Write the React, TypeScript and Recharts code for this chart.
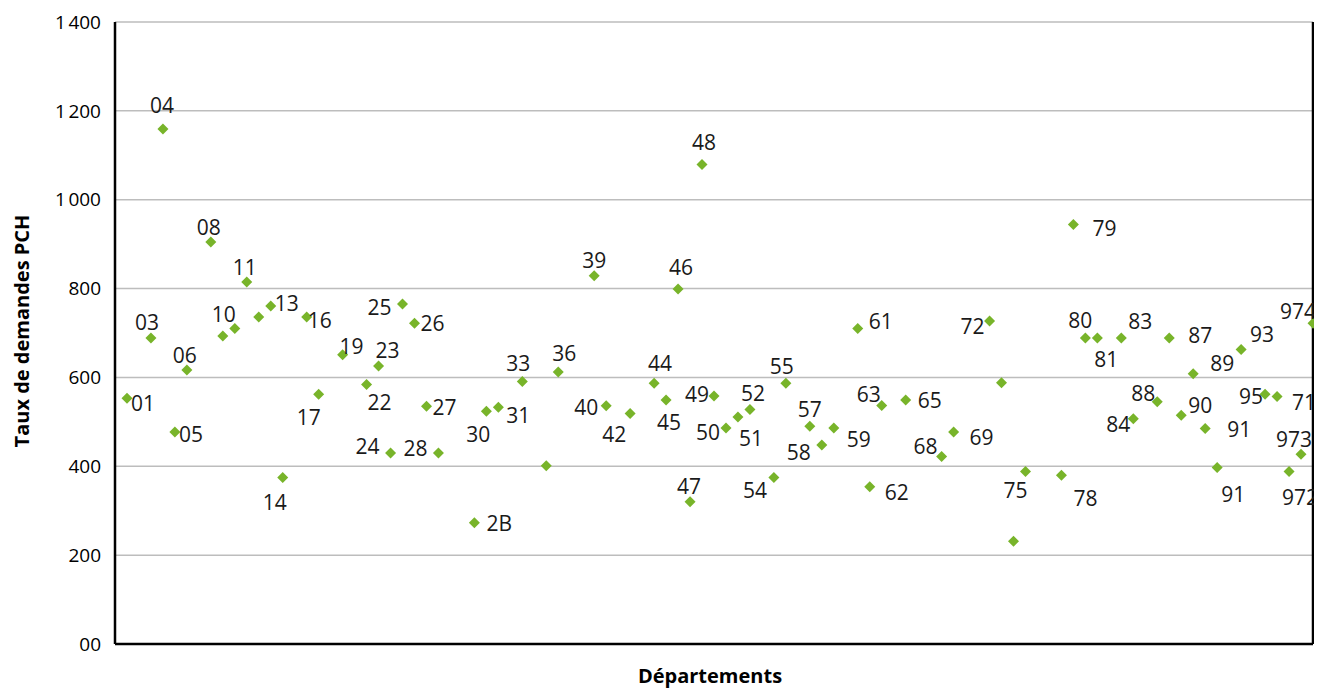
import { CartesianGrid, Label, ReferenceLine, Scatter, ScatterChart, XAxis, YAxis } from 'recharts';

// Rang du département sur l'axe horizontal (sans graduations), taux de demandes
// PCH, et étiquette affichée à côté du losange ('' = point sans étiquette).
const DEPT_RANK = [
  1, 3, 4, 5, 6, 8, 9, 10, 11, 12, 13, 14, 16, 17, 19, 21, 22, 23, 24, 25, 26, 27,
  30, 31, 32, 34, 36, 37, 40, 41, 43, 45, 46, 47, 48, 49, 50, 51, 52, 53, 55, 56,
  58, 59, 60, 62, 63, 64, 66, 69, 70, 73, 74, 75, 76, 79, 80, 81, 82, 84, 85, 87,
  88, 89, 90, 91, 92, 94, 96, 97, 98, 99, 100,
];
const RATES = [
  553, 689, 1159, 477, 617, 905, 693, 710, 815, 736, 761, 375, 736, 562, 651, 584, 626, 430, 765, 722, 535, 430,
  273, 524, 533, 591, 401, 612, 829, 536, 519, 587, 549, 799, 320, 1079, 558, 486, 511, 528, 375, 587,
  490, 448, 486, 710, 354, 537, 549, 422, 477, 727, 588, 231, 388, 380, 944, 689, 689, 689, 507, 545,
  689, 515, 608, 485, 397, 663, 562, 557, 388, 427, 722,
];
const DEPT_LABELS = [
  '01', '03', '04', '05', '06', '08', '10', '', '11', '', '13', '14', '16', '17', '19', '22', '23', '24', '25', '26', '27', '28',
  '2B', '30', '31', '33', '', '36', '39', '40', '42', '44', '45', '46', '47', '48', '49', '50', '51', '52', '54', '55',
  '57', '58', '59', '61', '62', '63', '65', '68', '69', '72', '', '', '75', '78', '79', '80', '81', '83', '84', '88',
  '87', '90', '89', '91', '91', '93', '95', '71', '972', '973', '974',
];

const Y_TICKS = [0, 200, 400, 600, 800, 1000, 1200, 1400];
const Y_TICK_LABELS = ['00', '200', '400', '600', '800', '1\u202F000', '1\u202F200', '1\u202F400'];

// Décalage (dx, dy) de chaque étiquette par rapport au centre de son losange.
const LABEL_OFFSETS: [number, number][] = [
  [16, 5], [-4, -16], [-1, -24], [16, 2], [-2, -15], [-2, -15], [1, -22], [0, 0], [-2, -15], [0, 0], [16, -3], [-8, 25], [13, 3], [-10, 23], [9, -9], [13, 17], [9, -16], [-23, -7], [-23, 3], [18, 0], [18, 1], [-23, -5],
  [25, 0], [-8, 23], [20, 8], [-4, -18], [0, 0], [6, -19], [0, -16], [-20, 1], [-16, 21], [6, -20], [3, 22], [3, -22], [-1, -16], [2, -23], [-17, -2], [-18, 4], [13, 21], [3, -16], [-19, 13], [-4, -17],
  [0, -17], [-23, 7], [25, 11], [23, -8], [27, 5], [-13, -11], [24, 0], [-16, -11], [28, 5], [-17, 5], [0, 0], [0, 0], [-10, 18], [24, 23], [31, 3], [-5, -18], [9, 21], [19, -17], [-15, 5], [-14, -9],
  [31, -3], [19, -10], [29, -11], [34, 0], [16, 26], [21, -15], [-14, 2], [27, 5], [11, 25], [-7, -15], [-15, -12],
];

const GREEN = '#78b42a';
const FONT = '"Open Sans", "Noto Sans", sans-serif';

const data = DEPT_RANK.map((x, i) => ({ x, y: RATES[i], label: DEPT_LABELS[i], i }));

function Point(props: any) {
  const { cx, cy, payload } = props;
  const r = 5.5;
  const [dx, dy] = LABEL_OFFSETS[payload.i];
  return (
    <g>
      <path d={`M${cx},${cy - r}L${cx + r},${cy}L${cx},${cy + r}L${cx - r},${cy}Z`} fill={GREEN} />
      {payload.label && (
        <text x={cx + dx} y={cy + dy} textAnchor="middle" dominantBaseline="central" fontSize={21} fontFamily={FONT} fill="#1a1a1a">
          {payload.label}
        </text>
      )}
    </g>
  );
}

export default function App() {
  return (
    <div style={{ width: 1314, height: 680 }}>
      <ScatterChart width={1314} height={680} margin={{ top: 14, right: 9, bottom: 0, left: 0 }}>
        <CartesianGrid vertical={false} stroke="#bdbdbd" strokeWidth={1.5} />
        <XAxis type="number" dataKey="x" domain={[0, 100]} tick={false} tickLine={false} height={44} axisLine={{ stroke: '#000', strokeWidth: 2.5 }}>
          <Label
            content={() => (
              <text x={702} y={667} textAnchor="middle" dominantBaseline="central" fontSize={20} fontWeight="bold" fontFamily={FONT} fill="#000">
                Départements
              </text>
            )}
          />
        </XAxis>
        <YAxis
          type="number"
          dataKey="y"
          domain={[0, 1400]}
          ticks={Y_TICKS}
          interval={0}
          width={107}
          tickLine={false}
          tickMargin={8}
          axisLine={{ stroke: '#000', strokeWidth: 2.5 }}
          tick={{ fontSize: 19, fontFamily: FONT, fill: '#000' }}
          tickFormatter={(v: number) => Y_TICK_LABELS[Y_TICKS.indexOf(v)]}
        >
          <Label
            content={() => (
              <text x={13} y={323} transform="rotate(-90 13 323)" textAnchor="middle" dominantBaseline="central" fontSize={20} fontWeight="bold" fontFamily={FONT} fill="#000">
                Taux de demandes PCH
              </text>
            )}
          />
        </YAxis>
        <ReferenceLine x={100} stroke="#000" strokeWidth={2.5} />
        <Scatter data={data} shape={Point} isAnimationActive={false} />
      </ScatterChart>
    </div>
  );
}
